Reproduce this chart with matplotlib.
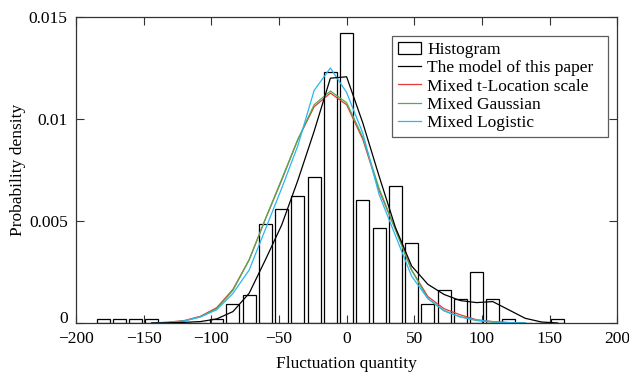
import matplotlib
matplotlib.use('Agg')
import matplotlib.pyplot as plt
from matplotlib.patches import Patch
from matplotlib.lines import Line2D

plt.rcParams['font.family'] = ['Liberation Serif', 'DejaVu Serif']

# histogram bins (centres) and densities
bin_centers = [-180, -168, -156, -144, -132, -120, -108, -96, -84, -72, -60,
               -48, -36, -24, -12, 0, 12, 24, 36, 48, 60, 72, 84, 96, 108,
               120, 132, 144, 156]
hist_density = [0.00018, 0.00018, 0.00018, 0.00018, 0, 0, 0, 0.00018,
                0.00092, 0.00136, 0.00483, 0.00557, 0.00624, 0.00717,
                0.01232, 0.0142, 0.00601, 0.00465, 0.0067, 0.00391, 0.00092,
                0.0016, 0.00116, 0.00252, 0.00116, 0.0002, 0, 0, 0.0002]

# fitted curves
x_model = [-144, -132, -120, -108, -96, -84, -72, -60, -48, -36, -24, -12, 0,
           12, 24, 36, 48, 60, 72, 84, 96, 108, 120, 132, 144, 156]
paper_model = [0.0, 0.00001, 0.00003, 0.00007, 0.0002, 0.00056, 0.00146,
               0.0031, 0.0048, 0.0070, 0.0094, 0.0120, 0.01207, 0.0098,
               0.0072, 0.0047, 0.0028, 0.0019, 0.0014, 0.0011, 0.0010,
               0.00105, 0.00064, 0.00023, 0.00005, 0.0]

x_mix = [-144, -132, -120, -108, -96, -84, -72, -60, -48, -36, -24, -12, 0,
         12, 24, 36, 48, 60, 72, 84, 96, 108, 120, 132]
t_location = [0.0, 0.00004, 0.00012, 0.00033, 0.00075, 0.00165, 0.0031,
              0.0051, 0.0070, 0.0090, 0.0106, 0.01127, 0.0107, 0.0090,
              0.0065, 0.0046, 0.0026, 0.0013, 0.0007, 0.0004, 0.00016,
              0.00007, 0.00002, 0.0]
gaussian = [0.0, 0.00002, 0.0001, 0.0003, 0.0007, 0.0016, 0.0031, 0.0051,
            0.00705, 0.0090, 0.0107, 0.01137, 0.0108, 0.0091, 0.0066,
            0.0046, 0.0026, 0.0012, 0.0006, 0.0003, 0.00012, 0.00004,
            0.00001, 0.0]
logistic = [0.0, 0.00003, 0.0001, 0.0003, 0.00065, 0.00145, 0.0026, 0.0046,
            0.0066, 0.0087, 0.0114, 0.0125, 0.0113, 0.0093, 0.0063, 0.0043,
            0.0023, 0.0012, 0.0006, 0.0003, 0.00015, 0.00006, 0.00002, 0.0]

fig = plt.figure(figsize=(6.29, 3.72), dpi=100)
ax = fig.add_axes([0.1208, 0.1317, 0.8605, 0.8226])

ax.bar(bin_centers, hist_density, width=9.6, color='white',
       edgecolor='black', linewidth=0.9, zorder=1)
ax.plot(x_model, paper_model, color='black', lw=0.9, zorder=3)
ax.plot(x_mix, t_location, color='#e53935', lw=0.9, zorder=2)
ax.plot(x_mix, gaussian, color='#4caf50', lw=0.9, zorder=2)
ax.plot(x_mix, logistic, color='#29b6f6', lw=0.9, zorder=2)

ax.set_xlim(-200, 200)
ax.set_ylim(0, 0.015)
ax.set_xticks([-200, -150, -100, -50, 0, 50, 100, 150, 200])
ax.set_yticks([0, 0.005, 0.01, 0.015])
ax.set_yticklabels(['0', '0.005', '0.01', '0.015'])
ax.tick_params(direction='in', length=6, width=0.8, labelsize=12.5,
               top=True, right=True, color='#333333')
ax.tick_params(axis='x', pad=6)
ax.tick_params(axis='y', pad=6)
for s in ax.spines.values():
    s.set_color('#333333')
    s.set_linewidth(0.9)
# sit the y "0" on the axis line so it clears the x "-200"
ax.get_yticklabels()[0].set_verticalalignment('baseline')

ax.set_xlabel('Fluctuation quantity', fontsize=12.5, labelpad=6)
ax.set_ylabel('Probability density', fontsize=12.5, labelpad=2)

handles = [Patch(facecolor='white', edgecolor='black', linewidth=0.9),
           Line2D([], [], color='black', lw=0.9),
           Line2D([], [], color='#e53935', lw=0.9),
           Line2D([], [], color='#4caf50', lw=0.9),
           Line2D([], [], color='#29b6f6', lw=0.9)]
labels = ['Histogram', 'The model of this paper  ', 'Mixed t-Location scale',
          'Mixed Gaussian', 'Mixed Logistic']
leg = ax.legend(handles, labels, loc='upper left',
                bbox_to_anchor=(0.5846, 0.938), fontsize=12.5,
                frameon=True, fancybox=False, edgecolor='#333333',
                borderpad=0.32, labelspacing=0.13, handlelength=1.3,
                handletextpad=0.4, borderaxespad=0)
leg.get_frame().set_linewidth(0.9)

fig.savefig('out.png', dpi=100)
